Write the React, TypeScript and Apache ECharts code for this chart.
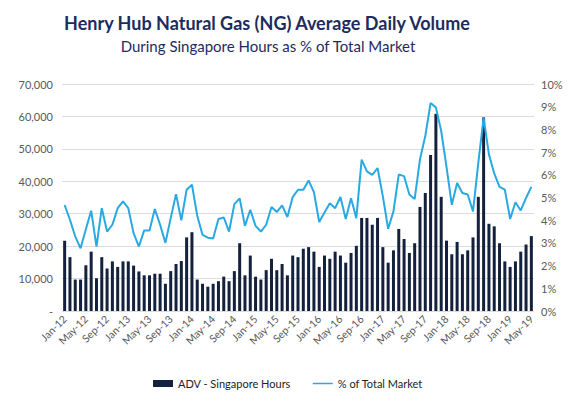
import React, { useEffect, useRef } from 'react';
import * as echarts from 'echarts';

const monthNames = ['Jan', 'Feb', 'Mar', 'Apr', 'May', 'Jun', 'Jul', 'Aug', 'Sep', 'Oct', 'Nov', 'Dec'];
const startYear = 2012;
const monthCount = 89; // Jan-12 .. May-19
const categories: string[] = [];
for (let i = 0; i < monthCount; i++) {
  const y = startYear + Math.floor(i / 12);
  categories.push(`${monthNames[i % 12]}-${String(y).slice(2)}`);
}

// ADV during Singapore hours (contracts)
const advSingapore = [
  21700, 16600, 9700, 9700, 14100, 18300, 10100, 16600, 13100, 15300, 13600, 15300,
  15300, 14000, 12200, 11000, 11000, 11500, 11500, 8400, 12300, 14500, 15400, 22700,
  24300, 9700, 8400, 7500, 8400, 9200, 10600, 9200, 12300, 20900, 11000, 17100,
  10600, 9700, 12600, 16100, 12600, 14500, 11000, 17100, 16600, 19200, 19700, 18300,
  13600, 17100, 16100, 18300, 17100, 14900, 17900, 20100, 28700, 28700, 26600, 28700,
  19700, 14900, 18700, 25300, 22200, 17900, 20900, 32100, 36400, 48100, 60800, 35200,
  21700, 17500, 21300, 17500, 18700, 22700, 35200, 59700, 26900, 26100, 20900, 15300,
  13600, 15300, 18300, 20500, 23100,
];

// % of total market
const pctOfTotal = [
  4.67, 4.02, 3.28, 2.76, 3.6, 4.42, 2.84, 4.53, 3.5, 3.8, 4.53, 4.83,
  4.53, 3.43, 2.84, 3.55, 3.55, 4.49, 3.8, 3.0, 4.09, 5.15, 3.99, 5.34,
  5.56, 4.2, 3.35, 3.23, 3.19, 4.05, 4.12, 3.5, 4.71, 4.96, 3.75, 4.46,
  3.75, 3.5, 3.8, 4.58, 4.36, 4.65, 4.14, 5.02, 5.34, 5.34, 5.75, 5.24,
  3.92, 4.34, 4.75, 4.53, 5.02, 4.05, 4.97, 4.09, 6.67, 6.15, 6.0, 6.3,
  5.05, 3.62, 4.39, 6.01, 5.94, 5.13, 4.93, 6.68, 7.71, 9.16, 8.97, 7.93,
  6.35, 4.68, 5.64, 5.2, 5.13, 4.39, 6.53, 8.52, 6.9, 6.06, 5.47, 5.35,
  4.05, 4.79, 4.43, 4.98, 5.47,
];

const titleText = 'Henry Hub Natural Gas (NG) Average Daily Volume';
const subtitleText = 'During Singapore Hours as % of Total Market';
const barName = 'ADV - Singapore Hours';
const lineName = '% of Total Market';

const FONT = 'Lato, "Noto Sans", sans-serif';
const NAVY = '#1e2b5e';
const BAR = '#14213d';
const LINE = '#29a9e1';
const AXIS_TEXT = '#595959';

export default function App() {
  const ref = useRef<HTMLDivElement>(null);
  useEffect(() => {
    if (!ref.current) return;
    const chart = echarts.init(ref.current, undefined, { renderer: 'svg' });
    chart.setOption({
      animation: false,
      backgroundColor: '#ffffff',
      textStyle: { fontFamily: FONT },
      graphic: [
        {
          type: 'text',
          x: 267,
          y: 23,
          style: {
            text: titleText,
            align: 'center',
            verticalAlign: 'middle',
            fill: NAVY,
            font: `bold 18px ${FONT}`,
          },
        },
        {
          type: 'text',
          x: 268,
          y: 46,
          style: {
            text: subtitleText,
            align: 'center',
            verticalAlign: 'middle',
            fill: NAVY,
            font: `15px ${FONT}`,
          },
        },
      ],
      legend: {
        left: 148,
        top: 373,
        itemWidth: 20,
        itemHeight: 7,
        itemGap: 22,
        textStyle: { fontSize: 11, color: '#222222', fontFamily: FONT },
        data: [
          { name: barName, icon: 'rect' },
          { name: lineName, icon: 'path://M0,0 L40,0 L40,3 L0,3 Z' },
        ],
      },
      grid: { left: 62, right: 39, top: 84, bottom: 88 },
      xAxis: {
        type: 'category',
        data: categories,
        boundaryGap: true,
        axisLine: { show: false },
        axisTick: { show: false },
        axisLabel: {
          interval: 3,
          rotate: 45,
          fontSize: 10.5,
          color: AXIS_TEXT,
          margin: 6,
          fontFamily: FONT,
        },
      },
      yAxis: [
        {
          type: 'value',
          min: 0,
          max: 70000,
          interval: 10000,
          axisLine: { show: false },
          axisTick: { show: false },
          splitLine: { lineStyle: { color: '#dcdcdc', width: 1 } },
          axisLabel: {
            color: AXIS_TEXT,
            fontSize: 11,
            margin: 9,
            fontFamily: FONT,
            formatter: (v: number) => (v === 0 ? '-' : v.toLocaleString('en-US')),
          },
        },
        {
          type: 'value',
          min: 0,
          max: 10,
          interval: 1,
          position: 'right',
          axisLine: { show: false },
          axisTick: { show: false },
          splitLine: { show: false },
          axisLabel: {
            color: AXIS_TEXT,
            fontSize: 11,
            margin: 7,
            fontFamily: FONT,
            formatter: '{value}%',
          },
        },
      ],
      series: [
        {
          name: barName,
          type: 'bar',
          data: advSingapore,
          barWidth: 3,
          itemStyle: { color: BAR },
        },
        {
          name: lineName,
          type: 'line',
          yAxisIndex: 1,
          data: pctOfTotal,
          symbol: 'none',
          lineStyle: { color: LINE, width: 2 },
          itemStyle: { color: LINE },
        },
      ],
    });
    return () => chart.dispose();
  }, []);
  return (
    <div
      ref={ref}
      style={{ position: 'fixed', left: 0, top: 0, width: 573, height: 399 }}
    />
  );
}
